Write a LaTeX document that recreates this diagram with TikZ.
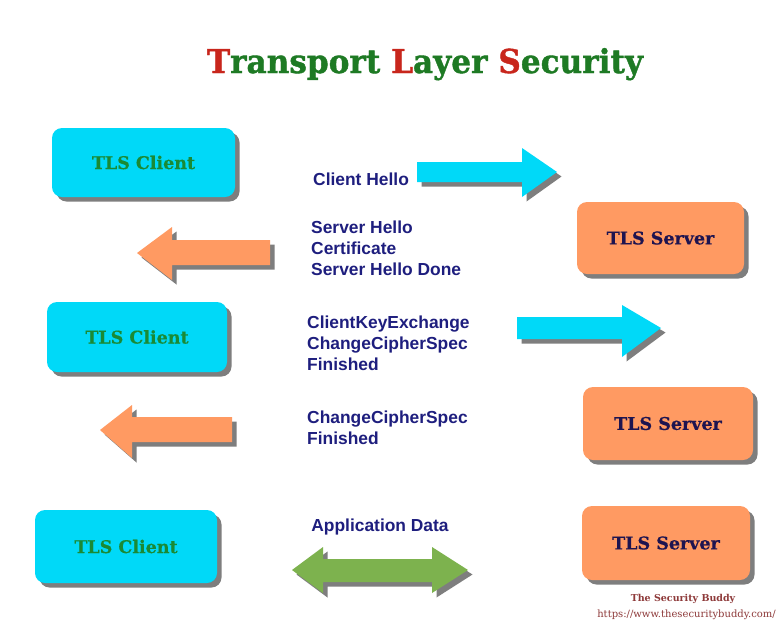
\documentclass[tikz,border=0pt]{standalone}
\usepackage{fontspec}
\setmainfont{DejaVu Serif}
\setsansfont{Liberation Sans}
\newfontfamily\titlefont{DejaVu Serif}[UprightFont=* Bold, FakeBold=1.2]
\newfontfamily\boxfont{DejaVu Serif}[UprightFont=* Bold, FakeBold=0.5]
\usetikzlibrary{shadows}
\definecolor{cyanbox}{HTML}{00D9F8}
\definecolor{orangebox}{HTML}{FF9A62}
\definecolor{greenarrow}{HTML}{7DB24E}
\definecolor{shadowgray}{HTML}{7E7E7E}
\definecolor{navytext}{HTML}{1E1E7E}
\definecolor{clientgreen}{HTML}{1A8A35}
\definecolor{servernavy}{HTML}{1E1450}
\definecolor{titlered}{HTML}{C8261C}
\definecolor{titlegreen}{HTML}{1E7A24}
\definecolor{footred}{HTML}{8E3A3A}
\newcommand\mytitletext[2]{\resizebox{436pt}{25pt}{\textcolor{#1}{T}\textcolor{#2}{ransport }\textcolor{#1}{L}\textcolor{#2}{ayer }\textcolor{#1}{S}\textcolor{#2}{ecurity}}}
\tikzset{
  shad/.style={drop shadow={shadow xshift=4.5pt, shadow yshift=-4.5pt, fill=shadowgray, opacity=1}},
  boxbase/.style={shad, rounded corners=10pt, inner sep=0pt, font=\boxfont\fontsize{17.5}{21}\selectfont},
  clientbox/.style={boxbase, fill=cyanbox, text=clientgreen},
  serverbox/.style={boxbase, fill=orangebox, text=servernavy},
  msg/.style={font=\sffamily\bfseries\fontsize{17.4}{20.6}\selectfont, text=navytext, align=left, inner sep=0pt},
  titletext/.style={inner sep=0pt, anchor=base, font=\titlefont},
}
\begin{document}
\begin{tikzpicture}[x=1pt,y=-1pt]
\useasboundingbox (0,0) rectangle (778,625);
\fill[white] (0,0) rectangle (778,625);

% title
\node[titletext] (title) at (425,73) {\mytitletext{titlered}{titlegreen}};

% boxes
\node[clientbox, minimum width=183pt, minimum height=69pt] (c1) at (143.5,162.5) {TLS Client};
\node[serverbox, minimum width=167pt, minimum height=72pt] (s1) at (660.5,238) {TLS Server};
\node[clientbox, minimum width=180pt, minimum height=70pt] (c2) at (137,337) {TLS Client};
\node[serverbox, minimum width=170pt, minimum height=73pt] (s2) at (668,423.5) {TLS Server};
\node[clientbox, minimum width=182pt, minimum height=73pt] (c3) at (126,546.5) {TLS Client};
\node[serverbox, minimum width=168pt, minimum height=74pt] (s3) at (666,543) {TLS Server};

% arrows
\fill[shad, cyanbox] (417,162) -- (522,162) -- (522,148) -- (557,172) -- (522,197) -- (522,182) -- (417,182) -- cycle;
\fill[shad, orangebox] (270,240) -- (172,240) -- (172,227) -- (137,253) -- (172,280) -- (172,265) -- (270,265) -- cycle;
\fill[shad, cyanbox] (517,317) -- (622,317) -- (622,305) -- (661,328) -- (622,357) -- (622,339) -- (517,339) -- cycle;
\fill[shad, orangebox] (232,417) -- (132,417) -- (132,405) -- (100,430) -- (132,458) -- (132,442) -- (232,442) -- cycle;
\fill[shad, greenarrow] (292,570) -- (323,547) -- (323,559) -- (432,559) -- (432,547) -- (468,570) -- (432,593) -- (432,582) -- (323,582) -- (323,593) -- cycle;

% messages
\node[msg, anchor=west] (m1) at (313,179) {Client Hello};
\node[msg, anchor=north west] (m2) at (311,221) {Server Hello\\Certificate\\Server Hello Done};
\node[msg, anchor=north west] (m3) at (307,316) {ClientKeyExchange\\ChangeCipherSpec\\Finished};
\node[msg, anchor=north west] (m4) at (307,411) {ChangeCipherSpec\\Finished};
\node[msg] (m5) at (380,527) {Application Data};

% footer
\node[inner sep=0pt, text=footred, font=\bfseries\fontsize{9.5}{12}\selectfont] (f1) at (683,599) {The Security Buddy};
\node[inner sep=0pt, text=footred, font=\fontsize{10}{12}\selectfont, anchor=east] (f2) at (776,615) {https://www.thesecuritybuddy.com/};
\end{tikzpicture}
\end{document}
